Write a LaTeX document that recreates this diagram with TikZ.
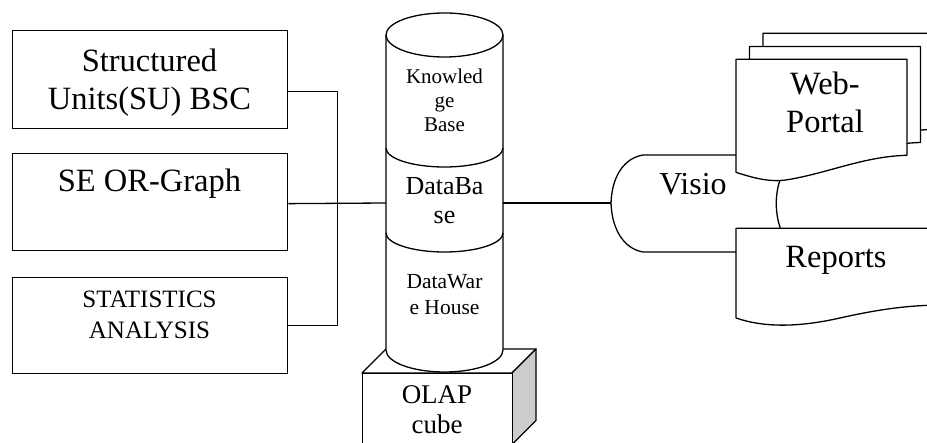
\documentclass[tikz,border=0pt]{standalone}
\usepackage{fontspec}
\setmainfont{Liberation Serif}
\newcommand\fsz[2]{\fontsize{#1}{#2}\selectfont}
\begin{document}
\begin{tikzpicture}[x=1pt, y=-1pt, line width=1.3pt, line join=round,
  box/.style={draw, fill=white, inner sep=0pt, anchor=north west},
  lbl/.style={inner sep=0pt, align=center, anchor=base},
  outline/.style={draw, fill=white},
  docsheet/.pic={\path[outline] (0,0) -- (171,0) -- (171,96)
      .. controls (129,97) and (94,113) .. (54,120)
      .. controls (39,123) and (24,121) .. (0,113) -- cycle;}
]
\useasboundingbox (0,0) rectangle (927,443);
\clip (0,0) rectangle (927,443);

% source boxes on the left
\node[box, minimum width=275, minimum height=98] (su)   at (12,30)  {};
\node[box, minimum width=275, minimum height=97] (seor) at (12,153) {};
\node[box, minimum width=275, minimum height=96] (stat) at (12,277) {};

% OLAP cube under the storage stack
\path[outline] (362,373) -- (386,349) -- (536,349) -- (512,373) -- cycle;
\path[outline, fill=gray!40] (512,373) -- (536,349) -- (536,420.5) -- (512,444.5) -- cycle;
\node[box, minimum width=150, minimum height=72] (olap) at (362,373) {};

% storage stack: three cylinders, lowest first
\path[outline] (386,233) -- (386,350)
  arc[start angle=180, end angle=360, x radius=58.5pt, y radius=22pt] -- (503,233);
\path[outline] (386,148) -- (386,233)
  arc[start angle=180, end angle=360, x radius=58.5pt, y radius=19pt] -- (503,148);
\path[outline] (386,35) -- (386,148)
  arc[start angle=180, end angle=360, x radius=58.5pt, y radius=19pt] -- (503,35);
\path[outline] (444.5,35) ellipse[x radius=58.5pt, y radius=22pt];
\coordinate (dbW) at (386,203);
\coordinate (dbE) at (503,203);

% display shape
\path[outline] (643,155) -- (795,155) .. controls (770,180) and (770,227) .. (795,252)
  -- (643,252) .. controls (625,249) and (612,231) .. (611,203)
  .. controls (612,175) and (625,158) .. (643,155) -- cycle;
\coordinate (visW) at (611,203);

% stacked web pages
\pic at (763,33.3) {docsheet};
\pic at (749.5,46.5) {docsheet};
\pic at (736,59.3) {docsheet};

% report sheet
\path[outline] (736,228.3) -- (950,228.3) -- (950,305) -- (945,305)
  .. controls (910,305) and (880,309) .. (840,318)
  .. controls (800,327) and (765,328) .. (736,318) -- cycle;

% connectors
\draw ([yshift=-12pt]su.east) -| ([xshift=49pt]stat.east) -- (stat.east);
\draw ([yshift=-1.5pt]seor.east) -- (dbW);
\draw (dbE) -- (visW);

% labels (anchored on the baseline of the last line)
\node[lbl, font=\fsz{32.5}{38.3}] (sutxt)   at (149.5,110)   {Structured\\Units(SU) BSC};
\node[lbl, font=\fsz{32.5}{38}]   (seortxt) at (149.5,191.7) {SE OR-Graph};
\node[lbl, font=\fsz{25}{31}]     (stattxt) at (149.5,338.3) {STATISTICS\\ANALYSIS};
\node[lbl, font=\fsz{21}{24.2}]   (kbtxt)   at (444.5,131.7) {Knowled\\ge\\Base};
\node[lbl, font=\fsz{26}{28.3}]   (dbtxt)   at (444.5,223.3) {DataBa\\se};
\node[lbl, font=\fsz{21.5}{26.7}] (dwtxt)   at (444.5,315)   {DataWar\\e House};
\node[lbl, font=\fsz{27}{30}]     (olaptxt) at (437,433.3)   {OLAP\\cube};
\node[lbl, font=\fsz{32}{36}]     (vistxt)  at (693,195)     {Visio};
\node[lbl, font=\fsz{32.5}{37.7}] (webtxt)  at (825,132.7)   {Web-\\Portal};
\node[lbl, font=\fsz{32.5}{38}]   (reptxt)  at (836,267.7)   {Reports};
\end{tikzpicture}
\end{document}
